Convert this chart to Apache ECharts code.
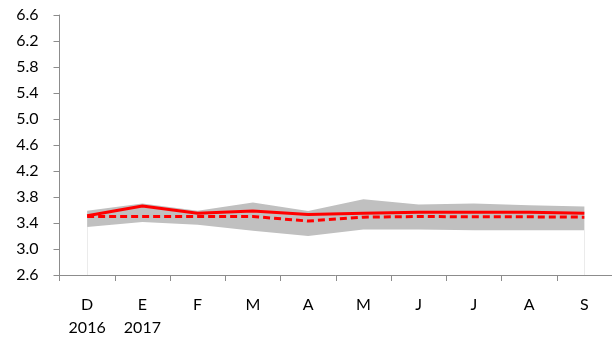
<!DOCTYPE html>
<html>
<head>
<meta charset="utf-8">
<script src="https://cdn.jsdelivr.net/npm/echarts@6/dist/echarts.min.js"></script>
<style>html,body{margin:0;padding:0;background:#fff}#c{width:612px;height:339px}</style>
</head>
<body>
<div id="c"></div>
<script>
const categories = ['D\n2016', 'E\n2017', 'F', 'M', 'A', 'M', 'J', 'J', 'A', 'S'];
const solidSeries = [3.51, 3.66, 3.55, 3.585, 3.53, 3.55, 3.565, 3.565, 3.565, 3.55];
const dashedSeries = [3.50, 3.50, 3.50, 3.50, 3.43, 3.49, 3.50, 3.495, 3.495, 3.49];
const bandUpper = [3.59, 3.70, 3.59, 3.715, 3.585, 3.765, 3.685, 3.70, 3.675, 3.655];
const bandLower = [3.34, 3.415, 3.375, 3.28, 3.20, 3.30, 3.30, 3.29, 3.29, 3.29];
const yTicks = [2.6, 3.0, 3.4, 3.8, 4.2, 4.6, 5.0, 5.4, 5.8, 6.2, 6.6];

const bandWidth = bandUpper.map((v, i) => +(v - bandLower[i]).toFixed(3));
const lastIdx = categories.length - 1;
const font = 'Lato';

const chart = echarts.init(document.getElementById('c'), null, {renderer: 'canvas'});
chart.setOption({
  animation: false,
  backgroundColor: '#fff',
  grid: {left: 59.5, top: 15, width: 558, bottom: 58, containLabel: false},
  xAxis: {
    type: 'category',
    data: categories,
    boundaryGap: true,
    axisLine: {show: true, lineStyle: {color: '#8c8c8c', width: 1}},
    axisTick: {show: true, length: 6, lineStyle: {color: '#8c8c8c'}},
    axisLabel: {color: '#000', fontFamily: font, fontSize: 16, margin: 18, lineHeight: 23, interval: 0},
    splitLine: {show: false}
  },
  yAxis: {
    type: 'value',
    min: yTicks[0],
    max: yTicks[yTicks.length - 1],
    interval: 0.4,
    axisLine: {show: true, lineStyle: {color: '#8c8c8c', width: 1}},
    axisTick: {show: true, length: 6, lineStyle: {color: '#8c8c8c'}},
    axisLabel: {color: '#000', fontFamily: font, fontSize: 16, margin: 21,
      formatter: v => (+v).toFixed(1)},
    splitLine: {show: false}
  },
  series: [
    {
      type: 'line', stack: 'band', data: bandLower, symbol: 'none',
      lineStyle: {opacity: 0}, silent: true, z: 1,
      markLine: {
        silent: true, symbol: 'none', label: {show: false},
        lineStyle: {color: '#ebebeb', width: 1, type: 'solid'},
        data: [
          [{coord: [0, yTicks[0]]}, {coord: [0, bandLower[0]]}],
          [{coord: [lastIdx, yTicks[0]]}, {coord: [lastIdx, bandLower[lastIdx]]}]
        ]
      }
    },
    {
      type: 'line', stack: 'band', data: bandWidth, symbol: 'none',
      lineStyle: {opacity: 0}, areaStyle: {color: '#c0c0c0', opacity: 1}, silent: true, z: 1
    },
    {
      type: 'line', data: dashedSeries, symbol: 'none',
      lineStyle: {color: '#ff0000', width: 3, type: [7, 4]}, z: 3
    },
    {
      type: 'line', data: solidSeries, symbol: 'none',
      lineStyle: {color: '#ff0000', width: 3}, z: 4
    }
  ]
});
</script>
</body>
</html>
